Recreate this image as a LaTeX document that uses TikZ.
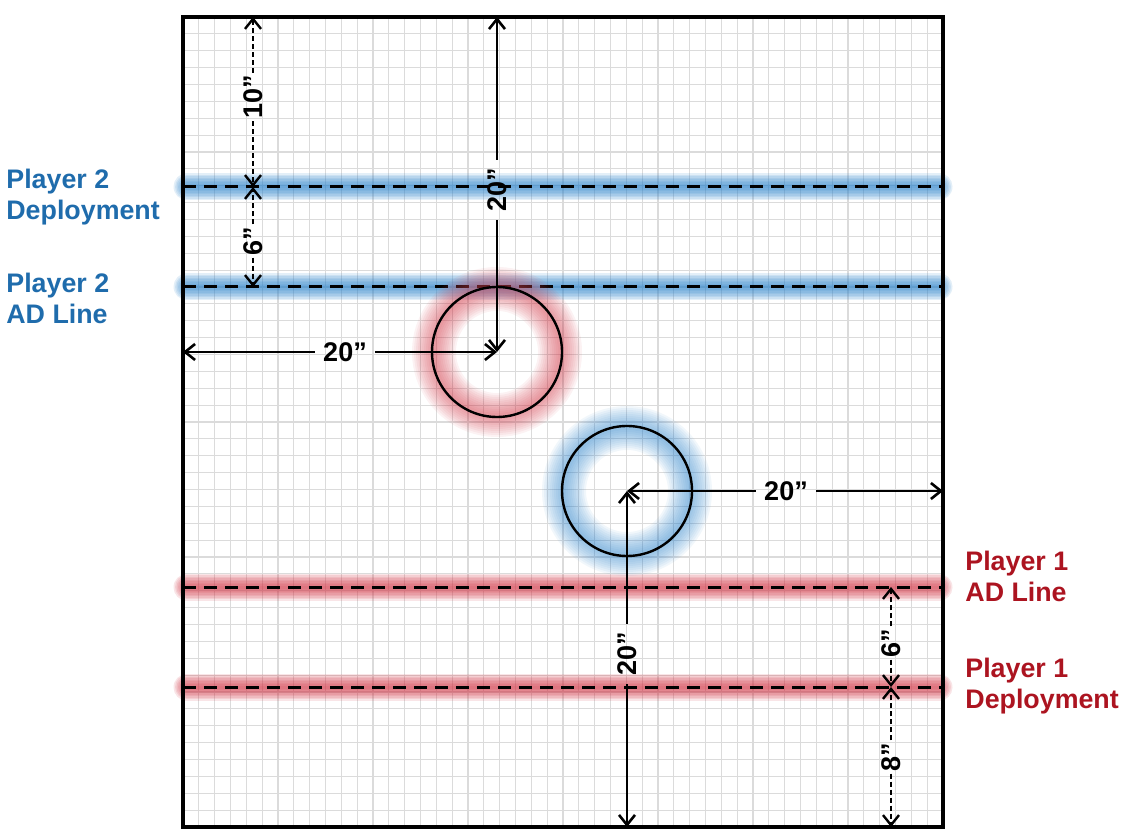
\documentclass[tikz,border=0pt]{standalone}
\usepackage{fontspec}
\setmainfont{Liberation Sans}
\usetikzlibrary{arrows.meta}
\definecolor{ptwo}{RGB}{31,108,172}
\definecolor{pone}{RGB}{172,20,32}
\definecolor{ptwoglow}{RGB}{60,140,205}
\definecolor{poneglow}{RGB}{212,70,84}
\newcommand{\zoneline}[3]{\foreach \w in {3,6,...,27} \draw[#1, line width=\w*0.5pt, opacity=0.14, line cap=round] (187,#3) -- (939,#3); \draw[zone] (183,#3) -- (943,#3);}
\newcommand{\glowring}[3]{\foreach \w in {4,8,...,44} \draw[#1, line width=\w*0.5pt, opacity=0.07] (#2) circle (63); \draw[ring] (#2) circle (#3);}

\begin{document}
\begin{tikzpicture}[x=0.5pt, y=-0.5pt, >={Straight Barb[length=5pt,width=8pt]},
  gridline/.style={gray!28, line width=0.6pt},
  board/.style={line width=1.8pt},
  zone/.style={line width=1.5pt, dash pattern=on 6.5pt off 4pt},
  ring/.style={line width=1.2pt},
  dimline/.style={line width=1.3pt},
  dimdash/.style={line width=1.2pt, dash pattern=on 2.5pt off 1.5pt},
  dimlab/.style={font=\fontsize{13.5}{16}\selectfont\bfseries, inner sep=4pt},
  tag/.style={anchor=west, align=left, inner sep=0pt, font=\fontsize{13.4}{15.5}\selectfont\bfseries}]
\useasboundingbox (0,0) rectangle (1128,838);
\foreach \i in {1,...,47} {
  \draw[gridline] ({183+\i*15.8333},17) -- ({183+\i*15.8333},827);
  \draw[gridline] (183,{17+\i*16.875}) -- (943,{17+\i*16.875});
}
\zoneline{ptwoglow}{p2d}{187}
\zoneline{ptwoglow}{p2a}{287}
\zoneline{poneglow}{p1a}{587}
\zoneline{poneglow}{p1d}{687}
\glowring{poneglow}{497,352}{65}
\glowring{ptwoglow}{627,491}{65}
\draw[board] (183,17) rectangle (943,827);

\node[tag, ptwo] (p2dlab) at (6,197) {Player 2\\Deployment};
\node[tag, ptwo] (p2alab) at (6,298) {Player 2\\AD Line};
\node[tag, pone] (p1alab) at (965,576) {Player 1\\AD Line};
\node[tag, pone] (p1dlab) at (965,686) {Player 1\\Deployment};

\coordinate (lt) at (253,17);
\coordinate (l1) at (253,187);
\coordinate (l2) at (253,287);
\node[dimlab, rotate=90, inner sep=1pt] (d10) at (253,97) {10”};
\draw[dimdash,->] (d10) -- (lt);
\draw[dimdash,->] (d10) -- (l1);
\node[dimlab, rotate=90, inner sep=1pt] (d6a) at (253,241) {6”};
\draw[dimdash,->] (d6a) -- (l1);
\draw[dimdash,->] (d6a) -- (l2);

\coordinate (rc) at (497,352);
\coordinate (rt) at (497,17);
\coordinate (rl) at (183,352);
\node[dimlab, rotate=90] (r20v) at (497,190) {20”};
\draw[dimline,->] (r20v) -- (rt);
\draw[dimline,->] (r20v) -- (rc);
\node[dimlab] (r20h) at (345,352) {20”};
\draw[dimline,->] (r20h) -- (rl);
\draw[dimline,->] (r20h) -- (rc);

\coordinate (bc) at (627,491);
\coordinate (br) at (943,491);
\coordinate (bb) at (627,827);
\node[dimlab] (b20h) at (786,491) {20”};
\draw[dimline,->] (b20h) -- (bc);
\draw[dimline,->] (b20h) -- (br);
\node[dimlab, rotate=90] (b20v) at (627,654) {20”};
\draw[dimline,->] (b20v) -- (bc);
\draw[dimline,->] (b20v) -- (bb);

\coordinate (r1) at (891,587);
\coordinate (r2) at (891,687);
\coordinate (r3) at (891,827);
\node[dimlab, rotate=90, inner sep=1pt] (d6b) at (891,643) {6”};
\draw[dimdash,->] (d6b) -- (r1);
\draw[dimdash,->] (d6b) -- (r2);
\node[dimlab, rotate=90, inner sep=1pt] (d8) at (891,757) {8”};
\draw[dimdash,->] (d8) -- (r2);
\draw[dimdash,->] (d8) -- (r3);
\end{tikzpicture}
\end{document}
